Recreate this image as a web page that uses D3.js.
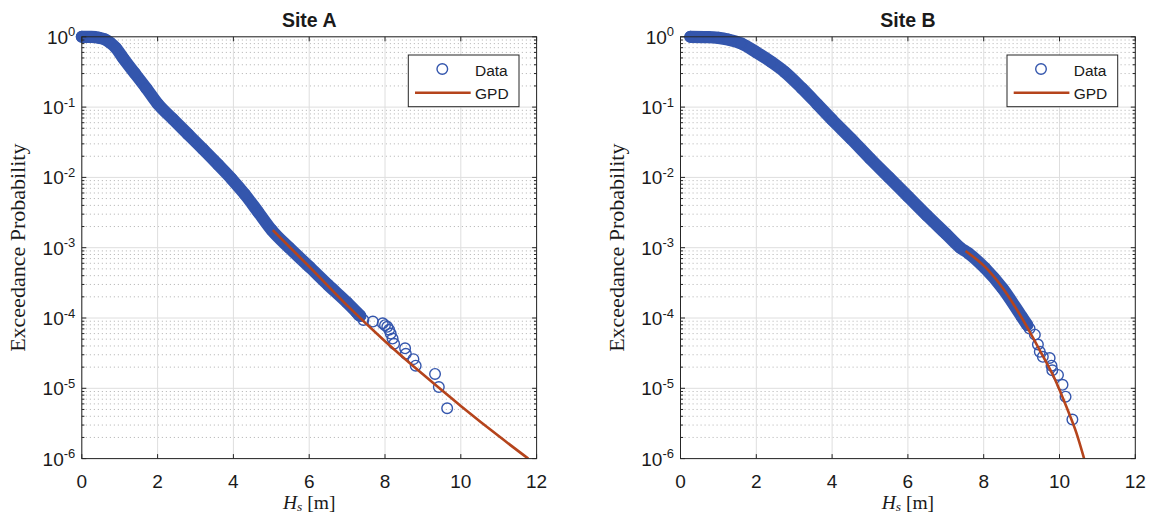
<!DOCTYPE html>
<html>
<head>
<meta charset="utf-8">
<script src="https://cdn.jsdelivr.net/npm/d3@7"></script>
<style>
body { margin: 0; background: #fff; }
text { fill: #1a1a1a; }
</style>
</head>
<body>
<div id="chart"></div>
<script>
const width = 1150, height = 515;

// Site A: dense part of the empirical curve, then the sparse tail points
const hsA = [0, 0.25, 0.45, 0.6, 0.75, 0.9, 1.1, 1.4, 1.7, 2.0, 2.4, 2.8, 3.2, 3.6, 3.95, 4.3, 4.65, 5.01, 5.47, 6.0, 6.5, 7.0, 7.35];
const pA = [1, 0.995, 0.973, 0.923, 0.822, 0.692, 0.49, 0.302, 0.186, 0.112, 0.0676, 0.0412, 0.0251, 0.0151, 0.00955, 0.00575, 0.00324, 0.00178, 0.001, 0.000537, 0.000295, 0.000166, 0.000107];
const hsTailA = [7.25, 7.3, 7.43, 7.68, 7.94, 8.0, 8.06, 8.11, 8.15, 8.2, 8.24, 8.53, 8.55, 8.75, 8.81, 9.32, 9.42, 9.64];
const pTailA = [1.2e-4, 1.1e-4, 9.4e-5, 8.9e-5, 8.4e-5, 7.9e-5, 7.5e-5, 6.8e-5, 6.0e-5, 5.1e-5, 4.3e-5, 3.7e-5, 3.1e-5, 2.6e-5, 2.1e-5, 1.6e-5, 1.04e-5, 5.2e-6];
const gpdHsA = [5.04, 6, 7, 8, 9, 10, 11, 11.78];
const gpdPA = [1.78e-3, 5.37e-4, 1.51e-4, 4.68e-5, 1.58e-5, 5.62e-6, 2.09e-6, 1.0e-6];

// Site B
const hsB = [0.26, 0.73, 1.0, 1.26, 1.6, 2.0, 2.4, 2.75, 3.2, 3.61, 4.0, 4.5, 5.0, 5.5, 6.0, 6.5, 7.0, 7.38, 7.6, 8.03, 8.5, 9.0, 9.15];
const pB = [1, 0.991, 0.966, 0.912, 0.804, 0.603, 0.437, 0.316, 0.186, 0.11, 0.0661, 0.0355, 0.0186, 0.01, 0.00537, 0.00288, 0.00158, 0.001, 0.000832, 0.000513, 0.000263, 0.000105, 0.0000794];
const hsTailB = [9.21, 9.35, 9.43, 9.48, 9.56, 9.74, 9.79, 9.81, 9.96, 10.08, 10.16, 10.34];
const pTailB = [7.1e-5, 5.8e-5, 4.2e-5, 3.3e-5, 2.8e-5, 2.7e-5, 2.1e-5, 1.8e-5, 1.55e-5, 1.12e-5, 7.6e-6, 3.6e-6];
const gpdHsB = [7.52, 8.03, 8.51, 9.04, 9.48, 9.87, 10.18, 10.45, 10.65];
const gpdPB = [8.97e-4, 5.37e-4, 2.63e-4, 9.33e-5, 3.47e-5, 1.38e-5, 5.5e-6, 2.29e-6, 1.0e-6];

const xTicks = [0, 2, 4, 6, 8, 10, 12];
const yExps = [0, -1, -2, -3, -4, -5, -6];
const legendLabels = ["Data", "GPD"];

const blue = '#3456ad';
const red = '#b5441c';
const axisColor = '#262626';
const sans = '"Liberation Sans", Arial, Helvetica, sans-serif';
const serif = '"Liberation Serif", "Times New Roman", serif';

const svg = d3.select("#chart").append("svg")
    .attr('width', width)
    .attr('height', height);

const zip = (xs, ys) => xs.map((v, i) => ({ hs: v, p: ys[i] }));

function panel(cfg, idx) {
    const left = cfg.left, right = cfg.left + 454.8, top = 36.8, bottom = 458.6;
    const x = d3.scaleLinear().domain([0, 12]).range([left, right]);
    const y = d3.scaleLog().domain([1e-6, 1]).range([bottom, top]);
    const g = svg.append("g");

    const clipId = `clip-${idx}`;
    g.append("clipPath").attr('id', clipId)
        .append("rect").attr('x', left).attr('y', top)
        .attr('width', right - left).attr('height', bottom - top);

    // minor grid (dotted)
    const minor = y.ticks().filter(v => Math.abs(Math.log10(v) - Math.round(Math.log10(v))) > 1e-6);
    g.append("g").selectAll("line").data(minor).enter().append("line")
        .attr('x1', left).attr('x2', right)
        .attr('y1', d => y(d)).attr('y2', d => y(d))
        .attr('stroke', '#bdbdbd').attr('stroke-width', 1)
        .attr('stroke-dasharray', '1.2,2.8');

    // major grid
    g.append("g").selectAll("line").data(xTicks).enter().append("line")
        .attr('x1', d => x(d)).attr('x2', d => x(d))
        .attr('y1', top).attr('y2', bottom)
        .attr('stroke', '#dedede').attr('stroke-width', 1);
    g.append("g").selectAll("line").data(yExps).enter().append("line")
        .attr('x1', left).attr('x2', right)
        .attr('y1', d => y(Math.pow(10, d))).attr('y2', d => y(Math.pow(10, d)))
        .attr('stroke', '#dedede').attr('stroke-width', 1);

    const line = d3.line().x(d => x(d.hs)).y(d => y(d.p)).curve(d3.curveMonotoneX);

    // dense band of overlapping markers (markers are not clipped)
    const band = zip(cfg.hs, cfg.p);
    g.append("path")
        .datum(band)
        .attr('d', line)
        .attr('fill', 'none')
        .attr('stroke', blue)
        .attr('stroke-width', 12.2)
        .attr('stroke-linecap', 'round')
        .attr('stroke-linejoin', 'round');

    g.append("g").selectAll("circle")
        .data(band.concat(zip(cfg.hsTail, cfg.pTail)))
        .enter().append("circle")
        .attr('cx', d => x(d.hs))
        .attr('cy', d => y(d.p))
        .attr('r', 5.3)
        .attr('fill', 'none')
        .attr('stroke', blue)
        .attr('stroke-width', 1.4);

    // GPD fit
    g.append("path")
        .datum(zip(cfg.gpdHs, cfg.gpdP))
        .attr('clip-path', `url(#${clipId})`)
        .attr('d', line)
        .attr('fill', 'none')
        .attr('stroke', red)
        .attr('stroke-width', 2.6);

    // axes box
    g.append("rect")
        .attr('x', left).attr('y', top)
        .attr('width', right - left).attr('height', bottom - top)
        .attr('fill', 'none').attr('stroke', axisColor).attr('stroke-width', 1);

    // ticks
    const ticks = g.append("g").attr('stroke', axisColor).attr('stroke-width', 1);
    xTicks.forEach(v => {
        ticks.append("line").attr('x1', x(v)).attr('x2', x(v)).attr('y1', bottom).attr('y2', bottom - 4.5);
        ticks.append("line").attr('x1', x(v)).attr('x2', x(v)).attr('y1', top).attr('y2', top + 4.5);
    });
    y.ticks().forEach(v => {
        const len = minor.includes(v) ? 2.6 : 4.5;
        ticks.append("line").attr('x1', left).attr('x2', left + len).attr('y1', y(v)).attr('y2', y(v));
        ticks.append("line").attr('x1', right).attr('x2', right - len).attr('y1', y(v)).attr('y2', y(v));
    });

    // tick labels
    g.append("g").selectAll("text").data(xTicks).enter().append("text")
        .attr('x', d => x(d)).attr('y', 487.5)
        .attr('text-anchor', 'middle')
        .style('font-family', sans).style('font-size', '19px')
        .text(d => d);

    const yl = g.append("g").selectAll("text").data(yExps).enter().append("text")
        .attr('x', left - 6.5).attr('y', d => y(Math.pow(10, d)) + 7)
        .attr('text-anchor', 'end')
        .style('font-family', sans).style('font-size', '19px');
    yl.append("tspan").text("10");
    yl.append("tspan").attr('dy', -7.5).style('font-size', '13px')
        .text(d => d < 0 ? `-${-d}` : d);

    // title
    g.append("text")
        .attr('x', (left + right) / 2).attr('y', 26.5)
        .attr('text-anchor', 'middle')
        .style('font-family', sans).style('font-size', '19.5px').style('font-weight', 'bold')
        .text(cfg.title);

    // axis labels
    g.append("text")
        .attr('transform', `translate(${left - 57},${(top + bottom) / 2}) rotate(-90)`)
        .attr('text-anchor', 'middle')
        .style('font-family', serif).style('font-size', '22px')
        .text("Exceedance Probability");

    const xl = g.append("text")
        .attr('x', (left + right) / 2).attr('y', 509)
        .attr('text-anchor', 'middle')
        .style('font-family', serif).style('font-size', '19.5px');
    xl.append("tspan").style('font-style', 'italic').text("H");
    xl.append("tspan").attr('dy', 2).style('font-style', 'italic').style('font-size', '13.5px').text("s");
    xl.append("tspan").attr('dy', -2).text(" [m]");

    // legend
    const lw = 110.7, lh = 51.7;
    const lx = right - 17.6 - lw, ly = 55;
    const leg = g.append("g");
    leg.append("rect").attr('x', lx).attr('y', ly).attr('width', lw).attr('height', lh)
        .attr('fill', '#fff').attr('stroke', axisColor).attr('stroke-width', 1);
    leg.append("circle").attr('cx', lx + 34).attr('cy', 69).attr('r', 5.3)
        .attr('fill', 'none').attr('stroke', blue).attr('stroke-width', 1.4);
    leg.append("line").attr('x1', lx + 6.7).attr('x2', lx + 62.4).attr('y1', 92.7).attr('y2', 92.7)
        .attr('stroke', red).attr('stroke-width', 2.6);
    leg.selectAll("text").data(legendLabels).enter().append("text")
        .attr('x', lx + 66.7).attr('y', (d, i) => i === 0 ? 75.5 : 98.8)
        .style('font-family', sans).style('font-size', '15.5px')
        .text(d => d);
}

panel({ title: "Site A", left: 81.8, hs: hsA, p: pA, hsTail: hsTailA, pTail: pTailA, gpdHs: gpdHsA, gpdP: gpdPA }, 0);
panel({ title: "Site B", left: 680.5, hs: hsB, p: pB, hsTail: hsTailB, pTail: pTailB, gpdHs: gpdHsB, gpdP: gpdPB }, 1);
</script>
</body>
</html>
